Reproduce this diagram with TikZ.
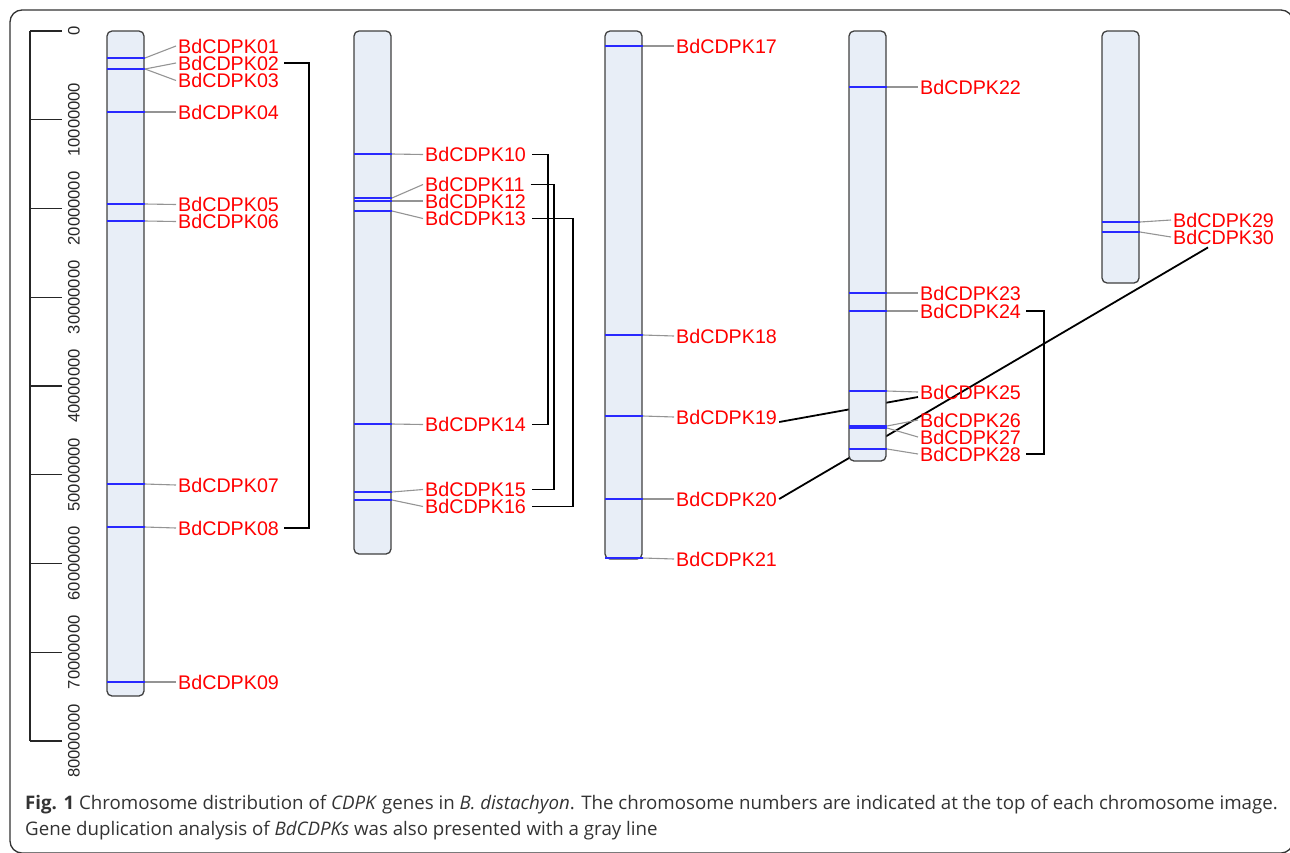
\documentclass[tikz,border=0pt]{standalone}
\usepackage{fontspec}
\setmainfont{Liberation Sans}
\newfontfamily\capfont{Open Sans}
\definecolor{chromfill}{HTML}{E8EEF7}
\definecolor{genecol}{HTML}{2828FF}
\definecolor{labred}{HTML}{FF0000}
\pgfdeclarelayer{bg}
\pgfsetlayers{bg,main}
\begin{document}
\begin{tikzpicture}[x=1pt,y=-1pt,
  chrom/.style={draw=black!75, fill=chromfill, line width=1.3pt, rounded corners=5pt},
  gene/.style={draw=genecol, line width=1.3pt},
  lead/.style={draw=black!42, line width=1.1pt},
  lab/.style={text=labred, font=\fontsize{19.7}{20}\selectfont, anchor=west, inner xsep=2pt, inner ysep=0pt},
  dup/.style={draw=black, line width=1.8pt},
  tickline/.style={draw=black!85, line width=1.2pt},
  sclab/.style={rotate=90, font=\fontsize{16.6}{17}\selectfont, inner sep=0pt, text=black!85},
  framebox/.style={draw=black!80, line width=1.3pt, rounded corners=12pt},
  captext/.style={anchor=west, inner sep=0pt, text=black!80, font=\capfont\fontsize{18.7}{20}\selectfont}
]
\useasboundingbox (0,0) rectangle (1290,852);
\draw[framebox] (10,10) rectangle (1293,853);

% scale
\draw[tickline] (30,31) -- (30,741);
\foreach \i in {0,...,8} {
  \draw[tickline] (30,31+88.75*\i) -- (62,31+88.75*\i);
  \ifnum\i=0
    \node[sclab] (s\i) at (74,31) {0};
  \else
    \node[sclab] (s\i) at (74,31+88.75*\i) {\i0000000};
  \fi
}

% chromosomes
\foreach \c/\L/\B in {1/107/696, 2/354/554, 3/605/559, 4/849/461, 5/1102/283} {
  \draw[chrom] (\L,31) rectangle (\L+37,\B);
  \coordinate (c\c) at (\L,31);
}

% genes and labels
\foreach \n/\L/\gy/\ly in {
  01/107/58/46, 02/107/69/63, 03/107/69/80.5, 04/107/112/112, 05/107/204/204.5,
  06/107/221/221.5, 07/107/484/485, 08/107/527/528, 09/107/682/682,
  10/354/154/154.5, 11/354/198/184.5, 12/354/201/201, 13/354/211/218.5,
  14/354/424/424.5, 15/354/492/489.5, 16/354/500/506.5,
  17/605/46/46, 18/605/335/336, 19/605/416/417, 20/605/499/499, 21/605/558/559,
  22/849/87/87, 23/849/293/293, 24/849/311/311, 25/849/391/392, 26/849/426/420,
  27/849/428/437, 28/849/449/454,
  29/1102/222/220, 30/1102/232/237} {
  \draw[gene] (\L,\gy) -- (\L+38,\gy);
  \coordinate (g\n) at (\L+38,\gy);
  \node[lab] (k\n) at (\L+69,\ly) {BdCDPK\n};
  \draw[lead] (g\n) -- (k\n.west);
}

% duplication brackets
\draw[dup] ([xshift=3pt]k02.east) -- ([xshift=28pt]k02.east) -- ([xshift=28pt]k02.east |- k08.east) -- ([xshift=3pt]k08.east);
\draw[dup] ([xshift=4pt]k10.east) -- ([xshift=20pt]k10.east) -- ([xshift=20pt]k10.east |- k14.east) -- ([xshift=4pt]k14.east);
\draw[dup] ([xshift=4pt]k11.east) -- ([xshift=27pt]k11.east) -- ([xshift=27pt]k11.east |- k15.east) -- ([xshift=4pt]k15.east);
\draw[dup] ([xshift=4pt]k13.east) -- ([xshift=45pt]k13.east) -- ([xshift=45pt]k13.east |- k16.east) -- ([xshift=4pt]k16.east);
\draw[dup] ([xshift=3pt]k24.east) -- ([xshift=21pt]k24.east) -- ([xshift=21pt]k24.east |- k28.east) -- ([xshift=3pt]k28.east);

% crossing duplication lines, behind chromosome 4
\begin{pgfonlayer}{bg}
\draw[dup] ([yshift=-5pt]k19.east) -- ([yshift=-5pt]k25.west);
\draw[dup] (k20.east) -- ([shift={(37pt,-3pt)}]k30.south west);
\end{pgfonlayer}

% caption
\node[captext] (cap1) at (25,805) {\textbf{Fig. 1} Chromosome distribution of \textit{CDPK} genes in \textit{B. distachyon}. The chromosome numbers are indicated at the top of each chromosome image.};
\node[captext] (cap2) at (25,831) {Gene duplication analysis of \textit{BdCDPKs} was also presented with a gray line};
\end{tikzpicture}
\end{document}
